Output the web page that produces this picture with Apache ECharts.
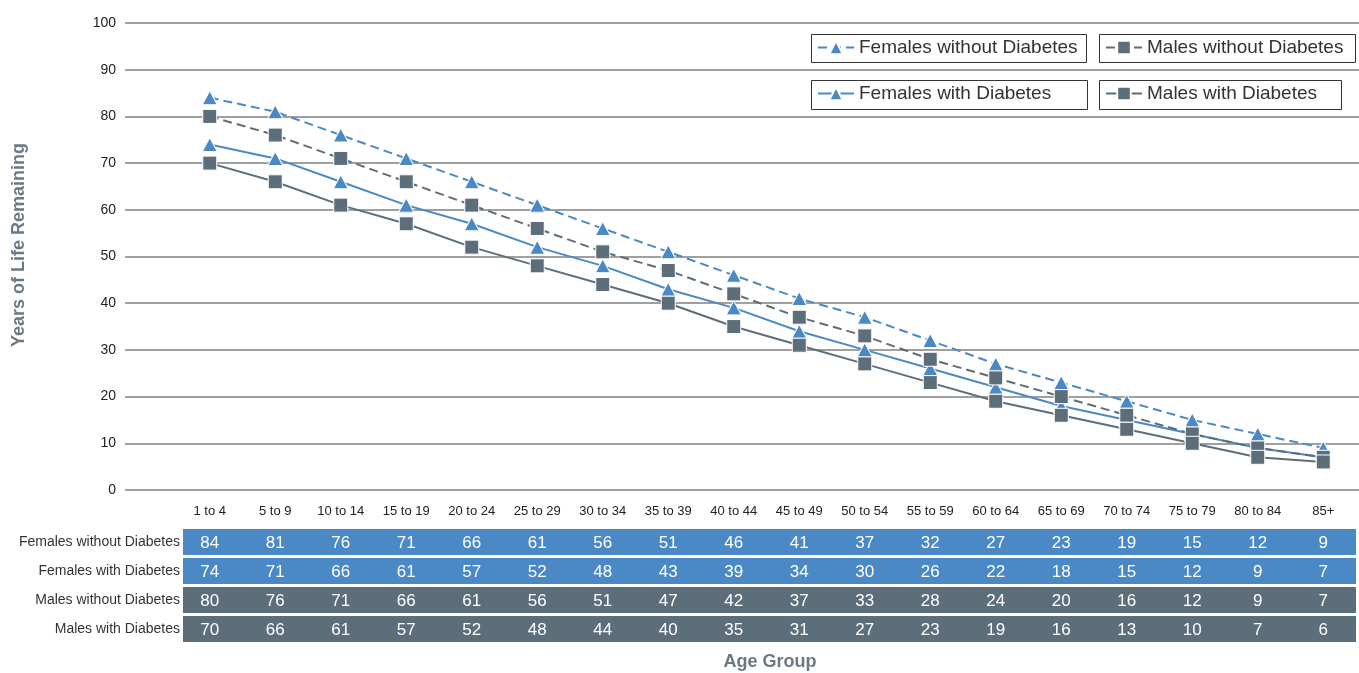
<!DOCTYPE html>
<html>
<head>
<meta charset="utf-8">
<script src="https://cdn.jsdelivr.net/npm/echarts@6/dist/echarts.min.js"></script>
<style>
html,body{margin:0;padding:0;background:#fff;}
#c{width:1359px;height:673px;}
</style>
</head>
<body>
<div id="c"></div>
<script>
var categories = ['1 to 4','5 to 9','10 to 14','15 to 19','20 to 24','25 to 29','30 to 34','35 to 39','40 to 44','45 to 49','50 to 54','55 to 59','60 to 64','65 to 69','70 to 74','75 to 79','80 to 84','85+'];
var femalesWithout = [84,81,76,71,66,61,56,51,46,41,37,32,27,23,19,15,12,9];
var femalesWith    = [74,71,66,61,57,52,48,43,39,34,30,26,22,18,15,12,9,7];
var malesWithout   = [80,76,71,66,61,56,51,47,42,37,33,28,24,20,16,12,9,7];
var malesWith      = [70,66,61,57,52,48,44,40,35,31,27,23,19,16,13,10,7,6];
var seriesNames = ['Females without Diabetes','Females with Diabetes','Males without Diabetes','Males with Diabetes'];
var yTicks = [0,10,20,30,40,50,60,70,80,90,100];

var BLUE = '#4a89c5', GRAY = '#5d6e7b', TITLE = '#6b7986';
var FONT = '"Liberation Sans", Arial, sans-serif';

var chart = echarts.init(document.getElementById('c'), null, {renderer:'canvas'});

function mkSeries(name, data, color, symbol, dashed){
  return {
    name: name, type: 'line', xAxisIndex: 1, yAxisIndex: 1, data: data,
    symbol: symbol, symbolSize: symbol === 'triangle' ? [15,14] : 14,
    showSymbol: true,
    itemStyle: {color: color, borderColor: '#fff', borderWidth: 1},
    lineStyle: {color: color, width: 2, type: dashed ? [9,5] : 'solid'},
    emphasis: {disabled: true}, z: 3
  };
}

function legendAt(name, left, top){
  return {
    data: [name], left: left, top: top, orient: 'horizontal',
    itemWidth: 36, itemHeight: 17, itemGap: 5, padding: 0,
    textStyle: {fontSize: 19, color: '#333', fontFamily: FONT},
    selectedMode: false
  };
}

var option = {
  animation: false,
  textStyle: {fontFamily: FONT},
  grid: [
    {left: 125, right: 0, top: 23, bottom: 183, containLabel: false},
    {left: 177, right: 3, top: 23, bottom: 183, containLabel: false}
  ],
  xAxis: [
    {gridIndex: 0, type: 'value', min: 0, max: 1, show: false},
    {gridIndex: 1, type: 'category', data: categories, boundaryGap: true,
     axisLine: {show: false}, axisTick: {show: false}, splitLine: {show: false},
     axisLabel: {margin: 15, fontSize: 13, color: '#222', interval: 0}}
  ],
  yAxis: [
    {gridIndex: 0, type: 'value', min: 0, max: 100, interval: 10,
     axisLine: {show: false}, axisTick: {show: false},
     axisLabel: {margin: 9, fontSize: 14, color: '#222'},
     splitLine: {show: true, lineStyle: {color: '#a0a0a0', width: 2}}},
    {gridIndex: 1, type: 'value', min: 0, max: 100, interval: 10, show: false,
     splitLine: {show: false}}
  ],
  legend: [
    legendAt(seriesNames[0], 817, 38),
    legendAt(seriesNames[2], 1105, 38),
    legendAt(seriesNames[1], 817, 84),
    legendAt(seriesNames[3], 1105, 84)
  ],
  series: [
    mkSeries(seriesNames[0], femalesWithout, BLUE, 'triangle', true),
    mkSeries(seriesNames[1], femalesWith, BLUE, 'triangle', false),
    mkSeries(seriesNames[2], malesWithout, GRAY, 'rect', true),
    mkSeries(seriesNames[3], malesWith, GRAY, 'rect', false)
  ]
};
chart.setOption(option);

var rows = [
  {name: seriesNames[0], data: femalesWithout, color: BLUE},
  {name: seriesNames[1], data: femalesWith, color: BLUE},
  {name: seriesNames[2], data: malesWithout, color: GRAY},
  {name: seriesNames[3], data: malesWith, color: GRAY}
];
var g = [];
[[811,34,275,28],[1099,34,256,28],[811,80,276,29],[1099,80,242,29]].forEach(function(b){
  g.push({type:'rect', shape:{x:b[0]+0.5,y:b[1]+0.5,width:b[2],height:b[3]},
    style:{fill:'#fff', stroke:'#333', lineWidth:1}, z:1, silent:true});
});
var rowTop = 529, rowH = 26, rowStep = 29;
var leftEdge = 183, rightEdge = 1356;
rows.forEach(function(r, ri){
  var y = rowTop + ri*rowStep;
  g.push({type:'rect', shape:{x:leftEdge, y:y, width:rightEdge-leftEdge, height:rowH},
    style:{fill:r.color}, silent:true, z:1});
  g.push({type:'text', x:180, y:y+rowH/2, style:{text:r.name, align:'right', verticalAlign:'middle',
    fontSize:14, fill:'#333', fontFamily:FONT}, silent:true, z:2});
  r.data.forEach(function(v, i){
    var px = chart.convertToPixel({xAxisIndex:1}, i);
    g.push({type:'text', x:px, y:y+rowH/2+1, style:{text:String(v), align:'center', verticalAlign:'middle',
      fontSize:17, fill:'#fff', fontFamily:FONT}, silent:true, z:2});
  });
});
g.push({type:'text', x:19, y:245, rotation:Math.PI/2, style:{text:'Years of Life Remaining', align:'center',
  verticalAlign:'middle', fontSize:18, fontWeight:'bold', fill:TITLE, fontFamily:FONT}, silent:true});
g.push({type:'text', x:770, y:662, style:{text:'Age Group', align:'center', verticalAlign:'middle',
  fontSize:18, fontWeight:'bold', fill:TITLE, fontFamily:FONT}, silent:true});
chart.setOption({graphic: g});
</script>
</body>
</html>
